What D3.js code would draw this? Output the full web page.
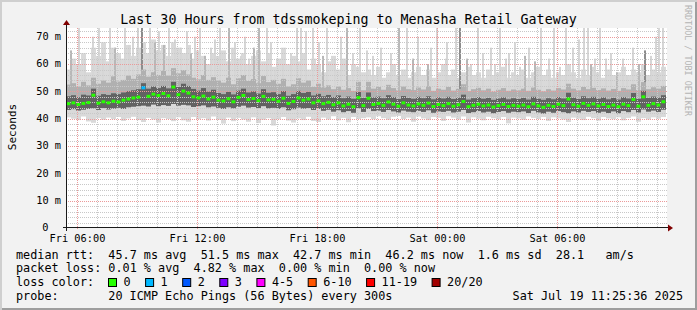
<!DOCTYPE html>
<html>
<head>
<meta charset="utf-8">
<script src="https://cdn.jsdelivr.net/npm/d3@7"></script>
<style>
  html, body { margin: 0; padding: 0; background: #f2f2f2; }
  svg { display: block; font-family: "DejaVu Sans Mono", monospace; }
</style>
</head>
<body>
<div id="chart"></div>
<script>
// smokeping "last 30 hours" graph, rrdtool look. values.
var TITLE = "Last 30 Hours from tdssmokeping to Menasha Retail Gateway";
var START = new Date(2025, 6, 18, 5, 25, 36), END = new Date(2025, 6, 19, 11, 25, 36);
var STEP_MIN = 15; // one column = 15 minutes

// median rtt per column (ms)
var med = [45.5,45.8,45.2,45.6,45.9,48.6,45.7,46.2,45.8,46.4,46.1,46.8,47.2,47.6,47.9,51.3,48.2,49.0,48.5,49.2,48.4,51.6,48.8,50.1,49.4,48.0,47.6,48.3,47.2,47.9,
  46.8,46.5,47.3,46.2,47.8,48.5,47.0,47.4,46.6,48.2,46.9,47.1,46.4,47.5,45.6,46.3,47.6,46.8,47.2,45.8,46.5,45.5,46.0,45.1,45.8,44.7,45.3,44.4,47.7,44.8,
  47.5,45.2,45.6,44.9,46.1,45.3,44.6,45.8,45.0,44.7,45.4,44.9,45.7,44.5,45.2,44.8,45.5,44.6,45.1,46.3,44.4,44.9,45.3,44.7,45.0,44.3,44.8,45.2,44.5,44.9,
  44.6,45.0,44.4,45.4,44.7,44.2,44.9,44.5,45.3,44.8,47.2,45.1,44.6,45.6,44.9,45.4,44.7,45.2,44.5,45.0,44.4,45.3,44.8,47.0,44.6,48.0,44.9,45.5,45.0,46.2];
// bottom of the light smoke
var lo = [40.5,40.0,39.5,40.8,39.0,38.5,40.2,39.6,40.4,39.8,40.6,39.2,40.1,40.7,39.5,38.8,40.3,39.7,38.6,40.2,39.9,39.1,40.5,39.4,38.9,40.6,39.8,40.2,39.3,40.8,
  39.6,38.2,40.4,39.1,40.3,39.7,38.9,40.5,38.4,39.6,40.2,37.5,39.8,40.6,39.3,38.6,40.1,39.5,40.7,39.2,38.8,40.4,39.7,40.9,39.4,40.3,38.7,40.6,39.9,40.2,
  40.5,39.8,40.9,40.2,39.6,40.7,41.0,39.9,40.4,38.9,40.8,40.1,39.5,40.6,40.3,39.2,40.9,40.4,39.7,40.8,38.6,40.5,40.0,39.4,40.7,40.2,39.8,40.6,38.3,40.4,
  40.1,39.6,40.8,40.3,39.9,40.6,39.2,40.5,40.1,39.7,38.8,40.4,40.0,39.5,40.7,40.2,39.3,40.6,40.1,39.8,40.5,39.4,40.3,40.8,38.9,40.2,39.7,40.5,40.0,40.6];
// bottom of the dark smoke
var c1 = [43.2,43.5,43.0,43.3,43.6,43.8,43.2,43.9,43.4,43.7,44.0,43.6,44.2,44.4,44.6,44.8,44.5,45.2,44.6,45.0,44.7,45.4,44.8,45.1,44.9,44.3,44.6,44.9,44.2,44.5,
  44.0,43.6,44.2,43.8,44.4,44.8,44.1,44.3,43.9,44.6,43.8,44.0,43.6,44.2,43.1,43.5,44.1,43.7,43.9,43.2,43.6,42.9,43.3,42.6,43.1,42.4,42.8,42.2,43.8,42.5,
  43.6,42.8,43.0,42.5,43.2,42.7,42.3,43.0,42.6,42.4,42.9,42.5,43.1,42.2,42.7,42.5,42.9,42.3,42.6,43.2,42.1,42.4,42.8,42.3,42.6,42.0,42.5,42.8,42.2,42.6,
  42.4,42.7,42.1,42.9,42.3,41.9,42.6,42.2,42.8,42.4,42.0,42.7,42.3,42.9,42.5,42.8,42.2,42.6,42.1,42.7,42.0,42.8,42.4,43.2,42.3,43.4,42.6,43.0,42.5,43.3];
// top of the dark smoke
var c2 = [48.2,48.6,47.9,48.8,48.5,51.0,48.4,49.0,48.7,49.3,49.0,49.6,50.1,50.4,50.8,53.0,51.0,51.8,51.2,52.0,51.1,53.5,51.6,52.8,52.0,50.9,50.3,51.2,49.9,50.6,
  49.4,49.0,49.8,48.9,50.3,51.0,49.6,50.0,49.2,50.8,49.5,49.7,49.0,50.1,48.4,49.0,50.2,49.4,49.8,48.5,49.1,48.2,48.7,47.9,48.5,47.5,48.1,47.3,49.8,47.6,
  49.6,47.8,48.1,47.5,48.6,47.9,47.2,48.3,47.6,47.3,48.0,47.5,48.2,47.1,47.8,47.4,48.0,47.2,47.7,48.8,47.0,47.5,47.9,47.3,47.6,46.9,47.4,47.8,47.1,47.5,
  47.2,47.6,47.0,48.0,47.3,46.9,47.5,47.1,47.9,47.4,49.5,47.7,47.2,48.2,47.5,48.0,47.3,47.8,47.1,47.6,47.0,47.9,47.4,49.4,47.3,50.2,47.6,48.1,47.7,48.6];
// top of the mid-grey smoke
var m2 = [52.5,53.0,51.8,53.5,52.2,55.0,52.8,54.0,53.2,55.5,53.6,54.2,55.8,54.6,56.2,58.0,55.4,57.0,56.0,57.5,55.8,58.5,56.6,57.8,56.2,55.0,54.4,56.0,54.2,55.2,
  54.0,53.2,55.0,52.6,54.8,56.0,53.8,54.5,53.0,55.6,53.4,54.2,52.8,54.6,51.8,52.6,54.8,53.2,54.0,51.6,52.8,51.4,52.2,50.8,51.8,50.6,51.2,50.2,53.5,50.4,
  53.5,51.0,51.6,50.6,52.4,51.2,50.4,51.8,50.8,50.5,51.4,50.7,51.9,50.2,51.0,50.6,51.6,50.3,50.9,52.6,50.1,50.8,51.3,50.4,51.0,49.9,50.6,51.2,50.2,50.7,
  50.4,51.0,50.2,51.4,50.6,50.0,50.8,50.3,51.2,50.7,52.8,51.0,50.4,51.6,50.8,51.3,50.5,51.1,50.3,50.9,50.2,51.2,50.7,52.6,50.5,53.4,50.8,51.5,51.0,52.0];
// top of the light smoke
var hi = [58,62,60,64,57,66,63,68,61,66,64,62,67,63,66,68,64,69,65,67,63,68,66,64,67,62,65,63,60,64,
  63,65,61,66,62,64,60,63,65,61,64,59,62,66,60,63,61,64,58,62,60,57,61,63,58,62,56,60,59,57,
  58,56,59,55,57,60,56,58,55,57,59,56,58,55,57,60,56,58,55,57,59,56,57,55,58,56,57,59,55,57,
  56,58,55,57,59,56,58,55,57,56,60,57,55,58,56,59,57,55,58,56,57,59,56,58,57,60,56,58,57,59];
// single outlier pings: [hours after start, top ms, shade 0 light / 1 mid / 2 dark]
var spikes = [[0.2,65,1],[0.6,75,0],[0.9,62,0],[1.3,70,0],[1.6,75,0],[1.8,64,0],[2.15,75,0],[2.4,66,1],[2.65,63,0],[2.9,75,0],
  [3.1,67,0],[3.3,70,0],[3.55,75,0],[3.75,75,2],[4.15,75,0],[4.4,68,1],[4.6,72,0],[4.85,67,1],[5.1,75,0],[5.4,69,0],[5.7,66,0],
  [6.0,72,0],[6.2,64,1],[6.4,70,0],[6.65,75,0],[6.9,63,1],[7.2,66,0],[7.4,69,0],[7.65,75,0],[8.1,75,1],[8.4,68,0],[8.7,63,0],
  [8.9,70,0],[9.1,62,0],[9.35,66,1],[9.6,75,1],[10.0,75,0],[10.2,68,0],[10.4,58,0],[10.8,60,0],[11.2,64,0],[11.5,75,0],
  [11.7,75,0],[11.95,72,0],[12.3,75,0],[12.6,68,0],[12.8,63,1],[13.0,75,0],[13.4,62,0],[13.7,70,0],[14.0,75,1],[14.3,64,0],
  [14.65,75,0],[15.0,65,0],[15.3,63,0],[15.7,66,0],[16.2,64,0],[16.6,75,1],[17.0,75,0],[17.3,62,1],[17.55,70,0],[18.05,60,1],
  [18.2,66,0],[18.5,75,0],[18.95,62,0],[19.0,68,0],[19.45,75,0],[19.65,75,2],[20.0,62,1],[20.2,60,0],[20.55,75,0],[20.8,64,0],
  [21.2,66,0],[21.4,60,0],[21.65,75,0],[21.95,62,0],[22.1,64,0],[22.4,68,0],[22.65,59,0],[22.9,63,1],[23.1,66,0],[23.4,61,1],
  [23.7,75,0],[24.1,62,0],[24.35,75,0],[24.65,59,0],[24.95,75,0],[25.3,66,0],[25.6,69,0],[25.85,75,0],[26.05,75,0],[26.2,60,1],
  [26.4,62,0],[26.65,75,0],[26.95,62,0],[27.2,64,0],[27.5,57,1],[27.8,62,0],[28.0,56,0],[28.3,66,0],[28.6,60,1],[28.9,65,2],
  [29.2,63,0],[29.45,70,0],[29.6,75,0],[29.8,75,0]];
// columns with packet loss: [column, lost pings]
var lossAt = [[15, 1]];

var yTicks = [0, 10, 20, 30, 40, 50, 60, 70];
var yTickLabels = ["0", "10 m", "20 m", "30 m", "40 m", "50 m", "60 m", "70 m"];
var lossLabels = ["0", "1", "2", "3", "4-5", "6-10", "11-19", "20/20"];
var lossColors = ["#26ff00", "#00b8ff", "#0059ff", "#7e00ff", "#ff00ff", "#ff5500", "#ff0000", "#a10000"];
var lossMax = [0, 1, 2, 3, 5, 10, 19, 20];
var legendRows = [
  "median rtt:  45.7 ms avg  51.5 ms max  42.7 ms min  46.2 ms now  1.6 ms sd  28.1   am/s",
  "packet loss: 0.01 % avg  4.82 % max  0.00 % min  0.00 % now"
];
var probeLabel = "probe:", probeText = "20 ICMP Echo Pings (56 Bytes) every 300s";
var stamp = "Sat Jul 19 11:25:36 2025";

var W = 697, H = 310, X0 = 66, X1 = 666, YB = 228, YT = 28;
var SMOKE = ["#d9d9d9", "#b0b0b0", "#626262"], SPIKE = ["#d6d6d6", "#b8b8b8", "#8c8c8c"];
var GRID = "#c8c8c8", MGRID = "#eb9a9a", ARROW = "#800000", AXIS = "#1a1a1a";

var x = d3.scaleTime().domain([START, END]).range([X0, X1]);
var y = d3.scaleLinear().domain([0, 73.2]).range([YB, YT]);
var px = function (v) { return Math.round(v) + 0.5; };
var colT = function (i) { return d3.timeMinute.offset(START, i * STEP_MIN); };
var spikeT = function (h) { return d3.timeSecond.offset(START, Math.round(h * 3600)); };
var lossColor = function (n) { for (var k = 0; k < lossMax.length; k++) if (n <= lossMax[k]) return lossColors[k]; return lossColors[lossColors.length - 1]; };

var svg = d3.select("#chart").append("svg").attr("width", W).attr("height", H);
svg.append("rect").attr("width", W).attr("height", H).attr("fill", "#f2f2f2");
// rrdtool 3d frame
svg.append("rect").attr("x", 0).attr("y", 0).attr("width", W).attr("height", 2).attr("fill", "#cfcfcf");
svg.append("rect").attr("x", 0).attr("y", 0).attr("width", 2).attr("height", H).attr("fill", "#cfcfcf");
svg.append("rect").attr("x", 2).attr("y", H - 2).attr("width", W - 2).attr("height", 2).attr("fill", "#9e9e9e");
svg.append("rect").attr("x", W - 2).attr("y", 2).attr("width", 2).attr("height", H - 2).attr("fill", "#9e9e9e");

svg.append("text").attr("x", 348.5).attr("y", 24).attr("text-anchor", "middle").attr("font-size", 13.3).attr("fill", "#000").text(TITLE);
svg.append("text").attr("transform", "translate(685,5) rotate(90)").attr("font-size", 8.4).attr("fill", "#b4b4b4").text("RRDTOOL / TOBI OETIKER");
svg.append("text").attr("transform", "translate(16,127) rotate(-90)").attr("text-anchor", "middle").attr("font-size", 11).attr("fill", "#000").text("Seconds");

// canvas
svg.append("defs").append("clipPath").attr("id", "plot").append("rect").attr("x", X0).attr("y", YT).attr("width", X1 - X0 + 1).attr("height", YB - YT);
svg.append("rect").attr("x", X0).attr("y", YT).attr("width", X1 - X0 + 1).attr("height", YB - YT).attr("fill", "#fff");

var g = svg.append("g").attr("clip-path", "url(#plot)");
var cols = d3.range(med.length).map(function (i) {
  return { x0: x(colT(i)), x1: x(colT(i + 1)), med: med[i], lo: lo[i], c1: c1[i], c2: c2[i], m2: m2[i], hi: hi[i], loss: 0 };
});
lossAt.forEach(function (l) { cols[l[0]].loss = l[1]; });

function band(cls, a, b, fill) {
  g.selectAll("rect." + cls).data(cols).enter().append("rect").attr("class", cls)
    .attr("x", function (d) { return d.x0; }).attr("width", function (d) { return d.x1 - d.x0; })
    .attr("y", function (d) { return y(d[b]); }).attr("height", function (d) { return y(d[a]) - y(d[b]); })
    .attr("fill", fill);
}
band("light", "lo", "hi", SMOKE[0]);
g.selectAll("rect.spike").data(spikes).enter().append("rect").attr("class", "spike")
  .attr("x", function (d) { return Math.round(x(spikeT(d[0]))); }).attr("width", 2)
  .attr("y", function (d) { return y(d[1]); }).attr("height", function (d) { return y(46) - y(d[1]); })
  .attr("fill", function (d) { return SPIKE[d[2]]; });
band("mid", "c1", "m2", SMOKE[1]);
band("dark", "c1", "c2", SMOKE[2]);

// grid (rrdtool paints it over the graph)
var hours = d3.timeHour.range(d3.timeHour.ceil(START), END);
var majors = hours.filter(function (t) { return t.getHours() % 6 === 0; });
var minorsY = d3.range(0, 73, 2).filter(function (v) { return v % 10 !== 0; });
var gg = svg.append("g");
gg.selectAll("line.hmin").data(minorsY).enter().append("line").attr("x1", X0).attr("x2", X1 + 1)
  .attr("y1", function (d) { return px(y(d)); }).attr("y2", function (d) { return px(y(d)); })
  .attr("stroke", GRID).attr("stroke-dasharray", "1,1");
gg.selectAll("line.vmin").data(hours.filter(function (t) { return t.getHours() % 6 !== 0; })).enter().append("line")
  .attr("x1", function (d) { return px(x(d)); }).attr("x2", function (d) { return px(x(d)); })
  .attr("y1", YT).attr("y2", YB).attr("stroke", GRID).attr("stroke-dasharray", "1,1");
gg.selectAll("line.hmaj").data(yTicks.slice(1)).enter().append("line").attr("x1", X0).attr("x2", X1 + 1)
  .attr("y1", function (d) { return px(y(d)); }).attr("y2", function (d) { return px(y(d)); })
  .attr("stroke", MGRID).attr("stroke-dasharray", "1,1");
gg.selectAll("line.vmaj").data(majors).enter().append("line")
  .attr("x1", function (d) { return px(x(d)); }).attr("x2", function (d) { return px(x(d)); })
  .attr("y1", YT).attr("y2", YB + 2).attr("stroke", MGRID).attr("stroke-dasharray", "1,1");

// median, coloured by loss
svg.append("g").attr("clip-path", "url(#plot)").selectAll("rect").data(cols).enter().append("rect")
  .attr("x", function (d) { return d.x0 + 0.5; }).attr("width", function (d) { return d.x1 - d.x0 - 1.2; })
  .attr("y", function (d) { return y(d.med) - 1.5; }).attr("height", 3)
  .attr("fill", function (d) { return lossColor(d.loss); });

// axes
svg.append("line").attr("x1", 66.5).attr("x2", 66.5).attr("y1", YB + 3).attr("y2", 24).attr("stroke", AXIS);
svg.append("line").attr("x1", 63).attr("x2", 670).attr("y1", YB - 0.5).attr("y2", YB - 0.5).attr("stroke", AXIS);
svg.append("path").attr("d", "M63,25 L70,25 L66.5,20 Z").attr("fill", ARROW);
svg.append("path").attr("d", "M668,224.5 L668,231.5 L673,228 Z").attr("fill", ARROW);

// unitless "0" sits two characters further left, as rrdtool pads it
svg.selectAll("text.yl").data(yTicks).enter().append("text").attr("class", "yl")
  .attr("x", function (d, i) { return yTickLabels[i].indexOf(" ") < 0 ? 48.5 : 61; })
  .attr("y", function (d) { return y(d) + 3.2; }).attr("text-anchor", "end")
  .attr("font-size", 10.3).attr("fill", "#000").text(function (d, i) { return yTickLabels[i]; });
var fmt = d3.timeFormat("%a %H:%M");
svg.selectAll("text.xl").data(majors).enter().append("text").attr("class", "xl")
  .attr("x", function (d) { return x(d); }).attr("y", 241.5).attr("text-anchor", "middle")
  .attr("font-size", 10.3).attr("fill", "#000").text(function (d) { return fmt(d); });

// legend
var CW = 7.1, LX = 16;
legendRows.forEach(function (s, i) {
  svg.append("text").attr("x", LX).attr("y", 258.5 + i * 13.5).attr("font-size", 11.8).attr("fill", "#000")
    .attr("xml:space", "preserve").style("white-space", "pre").text(s);
});
svg.append("text").attr("x", LX).attr("y", 286).attr("font-size", 11.8).attr("fill", "#000").text("loss color:");
var lx = 108.5;
lossLabels.forEach(function (lab, i) {
  svg.append("rect").attr("x", lx).attr("y", 278.5).attr("width", 8).attr("height", 8).attr("fill", lossColors[i]).attr("stroke", "#000");
  svg.append("text").attr("x", lx + 15).attr("y", 286).attr("font-size", 11.8).attr("fill", "#000").text(lab);
  lx += 15 + lab.length * CW + 15;
});
svg.append("text").attr("x", LX).attr("y", 299.5).attr("font-size", 11.8).attr("fill", "#000").text(probeLabel);
svg.append("text").attr("x", LX + 13 * CW).attr("y", 299.5).attr("font-size", 11.8).attr("fill", "#000").text(probeText);
svg.append("text").attr("x", 683).attr("y", 299.5).attr("text-anchor", "end").attr("font-size", 11.8).attr("fill", "#000").text(stamp);
</script>
</body>
</html>
